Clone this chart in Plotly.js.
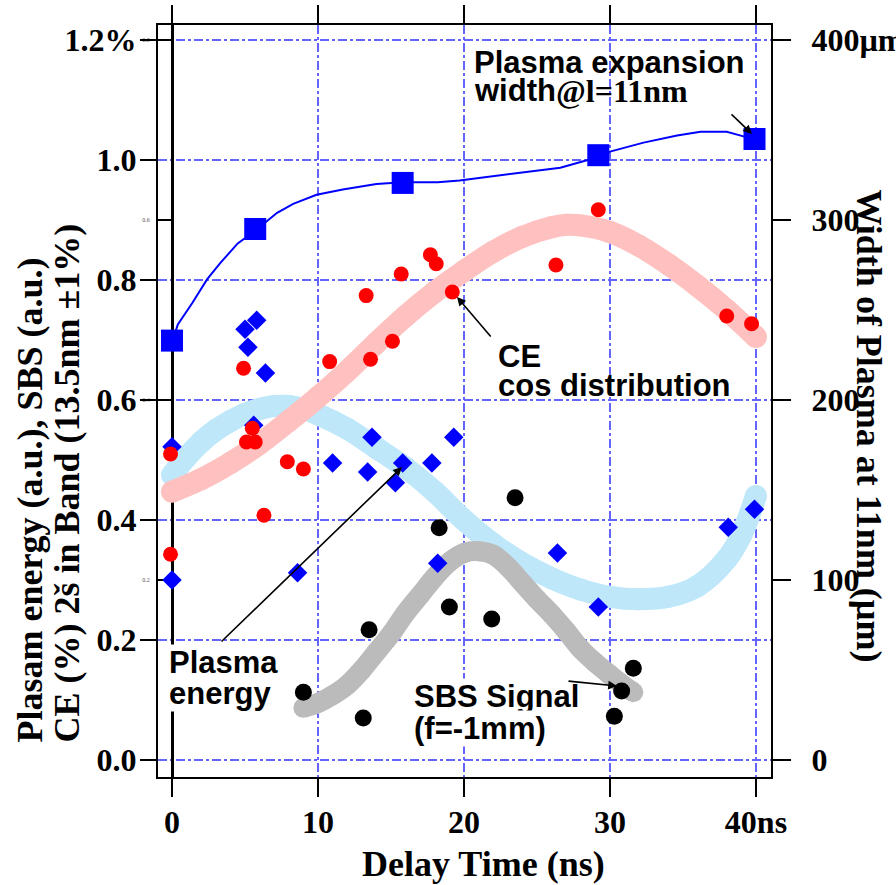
<!DOCTYPE html>
<html>
<head>
<meta charset="utf-8">
<script src="https://cdn.plot.ly/plotly-3.0.1.min.js"></script>
<style>html,body{margin:0;padding:0;background:#fff;}</style>
</head>
<body>
<div id="chart" style="width:896px;height:885px;"></div>
<script>
// ---- data ----
const timeTicks = [0, 10, 20, 30, 40];
const timeTickText = ['0', '10', '20', '30', '40ns'];
const leftTicks = [0, 0.2, 0.4, 0.6, 0.8, 1.0, 1.2];
const leftTickText = ['0.0', '0.2', '0.4', '0.6', '0.8', '1.0', '1.2%'];
const rightTicks = [0, 100, 200, 300, 400];
const rightTickText = ['0', '100', '200', '300', '400µm'];
const ghostTicks = [0.2, 0.4, 0.6, 0.8];
const ghostTickText = ['0.2', '0.4', '0.6', '0.8'];

// CE (%) measured points
const ceTime = [-0.1, -0.1, 4.9, 5.1, 5.5, 5.7, 6.3, 7.9, 9.0, 10.8, 13.3, 13.6, 15.1, 15.7, 17.7, 18.1, 19.2, 26.3, 29.2, 38.0, 39.7];
const ceValue = [0.51, 0.343, 0.653, 0.53, 0.553, 0.53, 0.408, 0.497, 0.485, 0.664, 0.774, 0.668, 0.698, 0.81, 0.842, 0.827, 0.78, 0.825, 0.917, 0.74, 0.727];
// CE cos distribution curve
const ceFitTime = [0, 2, 4, 6, 8, 10, 12, 14, 16, 18, 20, 22, 24, 26, 27, 28, 30, 32, 34, 36, 38, 40];
const ceFitValue = [0.447, 0.468, 0.495, 0.527, 0.565, 0.605, 0.648, 0.695, 0.74, 0.78, 0.815, 0.847, 0.872, 0.888, 0.892, 0.891, 0.88, 0.857, 0.826, 0.79, 0.75, 0.705];

// Plasma energy measured points
const peTime = [0, 0, 5.0, 5.2, 5.8, 6.4, 5.6, 8.6, 11.0, 13.7, 13.4, 15.3, 15.8, 17.8, 19.3, 18.2, 26.4, 29.2, 38.1, 39.9];
const peValue = [0.522, 0.30, 0.718, 0.688, 0.733, 0.645, 0.558, 0.312, 0.495, 0.538, 0.48, 0.462, 0.495, 0.495, 0.538, 0.328, 0.345, 0.255, 0.388, 0.418];
// Plasma energy curve
const peFitTime = [0, 1, 2, 3, 4, 5, 6, 7, 8, 9, 10, 12, 14, 16, 18, 20, 22, 24, 26, 28, 30, 32, 34, 36, 38, 39, 40];
const peFitValue = [0.475, 0.505, 0.53, 0.55, 0.565, 0.577, 0.585, 0.59, 0.59, 0.585, 0.576, 0.552, 0.52, 0.487, 0.447, 0.40, 0.36, 0.328, 0.303, 0.284, 0.272, 0.268, 0.272, 0.29, 0.335, 0.375, 0.44];

// SBS signal measured points
const sbsTime = [9.0, 13.1, 13.5, 18.3, 19.0, 21.9, 23.5, 31.6, 30.8, 30.3];
const sbsValue = [0.113, 0.07, 0.217, 0.387, 0.255, 0.235, 0.437, 0.153, 0.115, 0.073];
// SBS curve
const sbsFitTime = [9, 10, 11, 12, 13, 14, 15, 16, 17, 18, 19, 20, 21, 22, 23, 24, 25, 26, 27, 28, 29, 30, 31, 31.6];
const sbsFitValue = [0.087, 0.095, 0.108, 0.125, 0.15, 0.18, 0.21, 0.245, 0.275, 0.305, 0.33, 0.345, 0.348, 0.342, 0.322, 0.295, 0.268, 0.243, 0.215, 0.185, 0.162, 0.142, 0.123, 0.113];

// Plasma expansion width (µm)
const widthTime = [0, 5.7, 15.8, 29.2, 39.9];
const widthValue = [233, 295, 320.6, 336, 345];
const widthFitTime = [0, 0.4, 1.4, 2.4, 3.3, 4.5, 5.7, 7.2, 8.3, 9.9, 11.7, 14.0, 15.8, 18.2, 19.7, 22.5, 26.6, 29.2, 30.0, 32.3, 34.6, 36.2, 38.0, 38.9, 39.8];
const widthFitValue = [232, 242, 254, 267, 276, 287, 294, 304, 309, 314, 317, 320, 321, 321, 322, 325, 329, 335, 338, 343, 347, 349, 349, 347, 345];

// ---- styling ----
const SERIF = 'Liberation Serif, Times New Roman, serif';
const SANS = 'Liberation Sans, Arial, Helvetica, sans-serif';
const GRID = 'rgb(100,100,255)';
const L = 158, R = 125, T = 25, B = 108, W = 896, H = 885;
const PW = W - L - R, PH = H - T - B;
const PX = p => (p - L) / PW;
const PY = p => (H - B - p) / PH;

const traces = [
  {x: [], y: [], yaxis: 'y3', mode: 'markers', hoverinfo: 'skip'},
  {x: peFitTime, y: peFitValue, mode: 'lines+markers', line: {color: 'rgb(190,232,250)', width: 22, shape: 'spline'}, marker: {color: 'rgb(190,232,250)', size: 22}, hoverinfo: 'skip'},
  {x: ceFitTime, y: ceFitValue, mode: 'lines+markers', line: {color: 'rgb(255,192,192)', width: 22, shape: 'spline'}, marker: {color: 'rgb(255,192,192)', size: 22}, hoverinfo: 'skip'},
  {x: sbsFitTime, y: sbsFitValue, mode: 'lines+markers', line: {color: 'rgb(187,187,187)', width: 20, shape: 'spline'}, marker: {color: 'rgb(187,187,187)', size: 20}, hoverinfo: 'skip'},
  {x: widthFitTime, y: widthFitValue, yaxis: 'y2', mode: 'lines', line: {color: '#0000ff', width: 2}},
  {x: widthTime, y: widthValue, yaxis: 'y2', mode: 'markers', marker: {symbol: 'square', size: 22, color: '#0000ff'}},
  {x: peTime, y: peValue, mode: 'markers', marker: {symbol: 'diamond', size: 15, color: '#0000ff'}},
  {x: ceTime, y: ceValue, mode: 'markers', marker: {symbol: 'circle', size: 15, color: '#ff0000'}},
  {x: sbsTime, y: sbsValue, mode: 'markers', marker: {symbol: 'circle', size: 17, color: '#000000'}}
];

const tickFont = {family: SERIF, size: 32, color: 'black', weight: 'bold'};
const titleFont = {family: SERIF, size: 36, color: 'black', weight: 'bold'};
const annFont = {family: SANS, size: 31, color: 'black', weight: 'bold'};
const annSerif = {family: SERIF, size: 32, color: 'black', weight: 'bold'};

function txt(text, x, y, extra) {
  return Object.assign({text: text, xref: 'paper', yref: 'paper', x: PX(x), y: PY(y), xanchor: 'left', yanchor: 'middle', showarrow: false, font: annFont, borderpad: 0}, extra || {});
}
function arrow(hx, hy, tx, ty) {
  return {text: '', xref: 'paper', yref: 'paper', x: PX(hx), y: PY(hy), ax: tx - hx, ay: ty - hy, showarrow: true, arrowhead: 2, arrowsize: 1.1, arrowwidth: 1.6, arrowcolor: 'black', standoff: 0};
}

const annotations = [
  txt('Plasma expansion', 473, 63),
  txt('width', 473, 91),
  txt('@l=11nm', 555, 91, {font: annSerif}),
  txt('CE', 497, 356),
  txt('cos distribution', 497, 385),
  txt('Plasma', 168, 662, {bgcolor: 'white'}),
  txt('energy', 168, 693, {bgcolor: 'white'}),
  txt('SBS Signal', 413, 696, {bgcolor: 'white'}),
  txt('(f=-1mm)', 413, 728, {bgcolor: 'white'}),
  arrow(752, 134, 730, 113),
  arrow(457, 297, 492, 338),
  arrow(402, 467, 220, 643),
  arrow(617, 686, 567, 681),
  {text: 'Plasam energy (a.u.), SBS (a.u.)', xref: 'paper', yref: 'paper', x: PX(29), y: PY(745), xanchor: 'center', yanchor: 'bottom', textangle: -90, showarrow: false, font: titleFont},
  {text: 'CE (%) 2š in Band (13.5nm ±1%)', xref: 'paper', yref: 'paper', x: PX(66), y: PY(745), xanchor: 'center', yanchor: 'bottom', textangle: -90, showarrow: false, font: titleFont},
  {text: 'Width of Plasma at 11nm (µm)', xref: 'paper', yref: 'paper', x: PX(869), y: PY(187), xanchor: 'center', yanchor: 'top', textangle: 90, showarrow: false, font: titleFont},
  {text: 'Delay Time (ns)', xref: 'paper', yref: 'paper', x: PX(484), y: PY(864), xanchor: 'center', yanchor: 'middle', showarrow: false, font: titleFont}
];

const layout = {
  width: W, height: H,
  margin: {l: L, r: R, t: T, b: B, pad: 0},
  paper_bgcolor: 'white', plot_bgcolor: 'white',
  showlegend: false,
  xaxis: {
    range: [-0.959, 41.03], showline: true, linecolor: 'black', linewidth: 2, mirror: 'ticks',
    ticks: 'outside', ticklen: 18, tickwidth: 2, tickcolor: 'black',
    tickvals: timeTicks, ticktext: timeTickText, tickfont: tickFont, ticklabelstandoff: -2,
    showgrid: true, gridcolor: GRID, griddash: 'dashdot', gridwidth: 1.5, zeroline: false
  },
  yaxis: {
    range: [-0.0283, 1.225], showline: true, linecolor: 'black', linewidth: 2, mirror: true,
    ticks: 'outside', ticklen: 16, tickwidth: 2, tickcolor: 'black',
    tickvals: leftTicks, ticktext: leftTickText, tickfont: tickFont, ticklabelstandoff: -3,
    showgrid: true, gridcolor: GRID, griddash: 'dashdot', gridwidth: 1.5, zeroline: false
  },
  yaxis2: {
    overlaying: 'y', side: 'right', anchor: 'x', range: [-9.44, 408.33],
    showline: false, ticks: 'outside', ticklen: 19, tickwidth: 2, tickcolor: 'black',
    tickvals: rightTicks, ticktext: rightTickText, tickfont: tickFont, ticklabelstandoff: 14,
    showgrid: false, zeroline: false
  },
  yaxis3: {
    overlaying: 'y', side: 'left', anchor: 'free', position: PX(172), range: [-0.0189, 0.8167],
    showline: true, linecolor: 'black', linewidth: 2.5, layer: 'below traces',
    ticks: 'outside', ticklen: 14, tickwidth: 1.5, tickcolor: 'black',
    tickvals: ghostTicks, ticktext: ghostTickText, tickfont: {family: SERIF, size: 6, color: '#555'}, ticklabelstandoff: 6,
    showgrid: false, zeroline: false
  },
  annotations: annotations
};

Plotly.newPlot('chart', traces, layout, {displayModeBar: false, staticPlot: true});
</script>
</body>
</html>
